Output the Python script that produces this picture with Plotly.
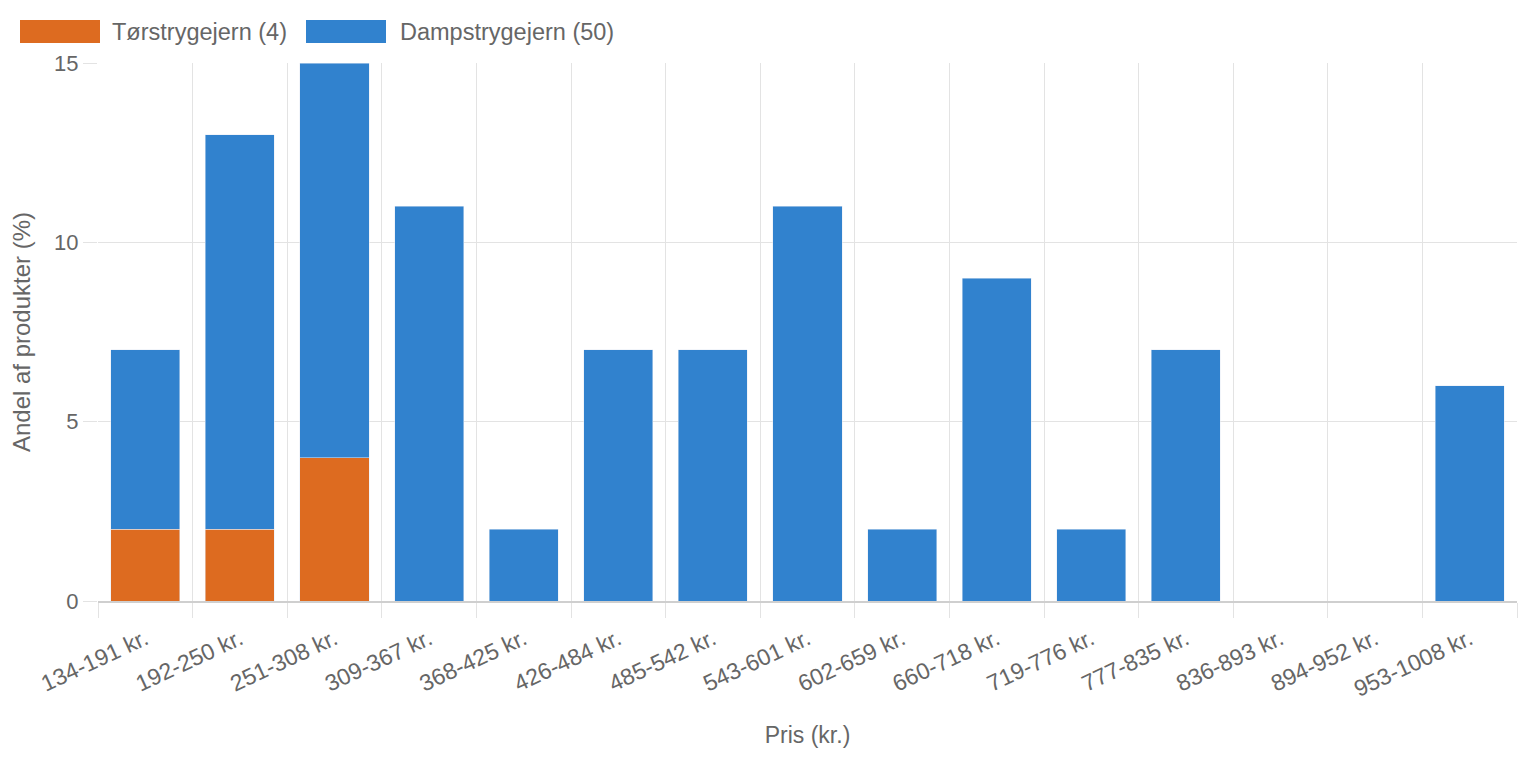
import plotly.graph_objects as go

categories = ["134-191 kr.", "192-250 kr.", "251-308 kr.", "309-367 kr.", "368-425 kr.",
              "426-484 kr.", "485-542 kr.", "543-601 kr.", "602-659 kr.", "660-718 kr.",
              "719-776 kr.", "777-835 kr.", "836-893 kr.", "894-952 kr.", "953-1008 kr."]
dry_name = "Tørstrygejern (4)"
steam_name = "Dampstrygejern (50)"
dry_values = [2, 2, 4, 0, 0, 0, 0, 0, 0, 0, 0, 0, 0, 0, 0]
steam_values = [5, 11, 11, 11, 2, 7, 7, 11, 2, 9, 2, 7, 0, 0, 6]
y_ticks = [0, 5, 10, 15]

ORANGE = "#DD6B20"
BLUE = "#3182CE"
FONT = "Liberation Sans, Arial, Helvetica, sans-serif"
TXT = "#666666"
GRID = "#e3e3e3"

W, H = 1518, 758
L, R, T, B = 98, 1, 63, 157
pw, ph = W - L - R, H - T - B

fig = go.Figure()
fig.add_trace(go.Bar(x=categories, y=dry_values, name=dry_name, marker_color=ORANGE,
                     showlegend=False))
fig.add_trace(go.Bar(x=categories, y=steam_values, name=steam_name, marker_color=BLUE,
                     showlegend=False))

def px_x(p):
    return (p - L) / pw

def px_y(p):
    return (H - B - p) / ph

# custom legend (Chart.js style wide boxes)
legend_items = [(dry_name, ORANGE, 20, 110), (steam_name, BLUE, 306, 398)]
for name, col, bx, tx in legend_items:
    fig.add_shape(type="rect", xref="paper", yref="paper",
                  x0=px_x(bx), x1=px_x(bx + 80), y0=px_y(43), y1=px_y(20),
                  fillcolor=col, line_width=0)
    fig.add_annotation(xref="paper", yref="paper", x=px_x(tx), y=px_y(32),
                       xanchor="left", yanchor="middle", text=name, showarrow=False,
                       font=dict(family=FONT, size=23.5, color=TXT))

fig.update_layout(
    width=W, height=H, autosize=False,
    margin=dict(l=L, r=R, t=T, b=B, pad=0),
    barmode="stack", bargap=0.27,
    plot_bgcolor="white", paper_bgcolor="white",
    font=dict(family=FONT, size=22, color=TXT),
    xaxis=dict(type="category", tickson="boundaries", ticks="outside", ticklen=15,
               tickcolor=GRID, tickwidth=1, showgrid=True, gridcolor=GRID, gridwidth=1,
               tickangle=-25, tickfont=dict(size=23, color=TXT), ticklabelstandoff=14,
               showline=True, linecolor="#cfcfcf", linewidth=1.5,
               title=dict(text="Pris (kr.)", standoff=26, font=dict(size=23, color=TXT))),
    yaxis=dict(range=[0, 15], tickvals=y_ticks, ticks="outside", ticklen=14,
               tickcolor=GRID, showgrid=True, gridcolor=GRID, zeroline=False,
               tickfont=dict(size=22, color=TXT),
               title=dict(text="Andel af produkter (%)", standoff=16,
                          font=dict(size=24, color=TXT))),
)

fig.write_html("out.html")
